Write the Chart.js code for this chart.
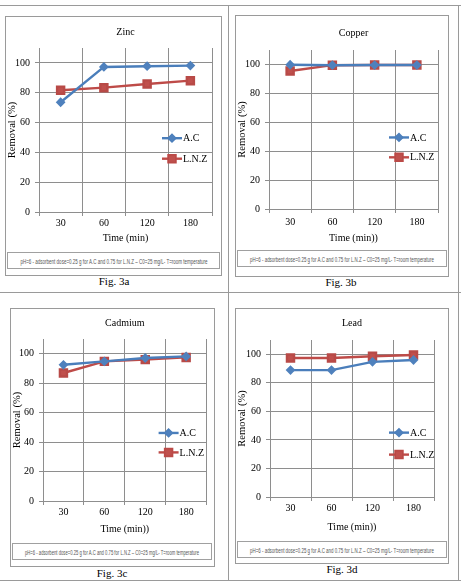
<!DOCTYPE html>
<html>
<head>
<meta charset="utf-8">
<script src="https://cdn.jsdelivr.net/npm/chart.js@4.4.1/dist/chart.umd.min.js"></script>
<style>
  body { margin: 0; background: #fff; width: 461px; height: 587px; position: relative; overflow: hidden; font-family: "Liberation Serif", serif; }
  .line { position: absolute; background: #9a9a9a; }
  .box { position: absolute; border: 1px solid #9a9a9a; box-sizing: border-box; background: #fff; }
  .box canvas { position: absolute; left: 0; top: 0; }
  .note { position: absolute; border: 1px solid #a0a0a0; box-sizing: border-box; overflow: hidden; }
  .note span { position: absolute; left: 50%; top: 50%; white-space: nowrap; font-family: "Liberation Sans Narrow", "Liberation Sans", sans-serif; font-size: 7px; color: #555; transform-origin: center center; }
  .fig { position: absolute; font-size: 11px; color: #000; text-align: center; width: 80px; }
</style>
</head>
<body>
<!-- table rules -->
<div class="line" style="left:0;top:5px;width:461px;height:1px"></div>
<div class="line" style="left:0;top:292px;width:461px;height:1px"></div>
<div class="line" style="left:0;top:580px;width:461px;height:1px"></div>
<div class="line" style="left:228px;top:5px;width:1px;height:576px"></div>
<div class="line" style="left:458px;top:5px;width:1px;height:576px"></div>

<div class="box" style="left:5px;top:16px;width:217px;height:260px">
  <canvas id="zincChart" width="215" height="235"></canvas>
  <div class="note" style="left:1px;top:235px;width:213px;height:17px"><span>pH=6 - adsorbent dose=0.25 g for A.C and 0.75 for L.N.Z – C0=25 mg/L- T=room temperature</span></div>
</div>
<div class="fig" style="left:74px;top:275px">Fig. 3a</div>

<div class="box" style="left:235px;top:15px;width:214px;height:262px">
  <canvas id="copperChart" width="212" height="234"></canvas>
  <div class="note" style="left:1px;top:234px;width:210px;height:17px"><span>pH=6 - adsorbent dose=0.25 g for A.C and 0.75 for L.N.Z – C0=25 mg/L- T=room temperature</span></div>
</div>
<div class="fig" style="left:301px;top:276px">Fig. 3b</div>

<div class="box" style="left:10px;top:308px;width:205px;height:259px">
  <canvas id="cadmiumChart" width="203" height="234"></canvas>
  <div class="note" style="left:1px;top:234px;width:200px;height:17px"><span>pH=6 - adsorbent dose=0.25 g for A.C and 0.75 for L.N.Z – C0=25 mg/L- T=room temperature</span></div>
</div>
<div class="fig" style="left:72px;top:567px">Fig. 3c</div>

<div class="box" style="left:235px;top:308px;width:214px;height:256px">
  <canvas id="leadChart" width="212" height="232"></canvas>
  <div class="note" style="left:1px;top:232px;width:210px;height:17px"><span>pH=6 - adsorbent dose=0.25 g for A.C and 0.75 for L.N.Z – C0=25 mg/L- T=room temperature</span></div>
</div>
<div class="fig" style="left:302px;top:563px">Fig. 3d</div>

<script>
//============================== DATA ===========================
const timeLabels = ["30", "60", "120", "180"];
const seriesNames = ["A.C", "L.N.Z"];

const zincAC = [73.6, 97.3, 97.8, 98.2];
const zincLNZ = [81.7, 83.4, 85.9, 88.1];

const copperAC = [99.8, 99.5, 99.6, 99.6];
const copperLNZ = [95.5, 99.5, 99.6, 99.6];

const cadmiumAC = [92.5, 94.8, 97.1, 98.2];
const cadmiumLNZ = [86.9, 94.8, 96.0, 97.5];

const leadAC = [88.9, 88.9, 94.7, 96.0];
const leadLNZ = [97.4, 97.4, 98.6, 99.5];

const yMin = 0;
const yMax = 110;
const yStep = 20;
const yTopTick = 100;

//============================== HELPERS ===========================
const GRID = "#8e8e8e";
const SERIF = "'Liberation Serif', 'Times New Roman', serif";

// legend drawn inside the plot, to the right (like the excel one)
const innerLegend = {
    id: "innerLegend",
    afterDatasetsDraw(chart, args, opts) {
        const ctx = chart.ctx;
        const a = chart.chartArea;
        const x0 = a.right - opts.fromRight;
        chart.data.datasets.forEach((ds, i) => {
            const y = a.top + opts.rows[i] * (a.bottom - a.top);
            ctx.save();
            ctx.strokeStyle = ds.borderColor;
            ctx.lineWidth = ds.borderWidth;
            ctx.beginPath();
            ctx.moveTo(x0, y);
            ctx.lineTo(x0 + 20, y);
            ctx.stroke();
            Chart.helpers.drawPoint(ctx, {
                pointStyle: ds.pointStyle,
                radius: ds.pointRadius,
                rotation: 0,
                borderWidth: 1
            }, x0 + 10, y);
            ctx.fillStyle = ds.pointBackgroundColor;
            ctx.strokeStyle = ds.pointBorderColor;
            ctx.lineWidth = 1;
            ctx.fill();
            ctx.stroke();
            ctx.fillStyle = "#000";
            ctx.font = "10px " + SERIF;
            ctx.textBaseline = "middle";
            ctx.textAlign = "left";
            ctx.fillText(ds.label, x0 + 21, y + 0.5);
            ctx.restore();
        });
    }
};

function makeConfig(title, acData, lnzData, xTitle, lay) {
    return {
        type: "line",
        data: {
            labels: timeLabels,
            datasets: [
                {
                    label: seriesNames[0],
                    data: acData,
                    borderColor: "#4A7EBB",
                    borderWidth: 2.4,
                    pointStyle: "rectRot",
                    pointRadius: 3.2,
                    pointBackgroundColor: "#4F81BD",
                    pointBorderColor: "#4F81BD",
                    tension: 0,
                },
                {
                    label: seriesNames[1],
                    data: lnzData,
                    borderColor: "#BE4B48",
                    borderWidth: 2.4,
                    pointStyle: "rect",
                    pointRadius: 5,
                    pointBackgroundColor: "#C0504D",
                    pointBorderColor: "#B84A47",
                    tension: 0,
                },
            ],
        },
        options: {
            responsive: false,
            maintainAspectRatio: false,
            animation: false,
            layout: { padding: { left: 0, top: 0, right: lay.padRight, bottom: 0 } },
            plugins: {
                legend: { display: false },
                tooltip: { enabled: false },
                title: {
                    display: true,
                    fullSize: false,
                    text: title,
                    color: "#000",
                    font: { family: SERIF, size: 10, weight: "normal", lineHeight: 1.2 },
                    padding: { top: lay.titleTop, bottom: lay.titleBottom },
                },
                innerLegend: { fromRight: lay.legendRight, rows: lay.legendRows },
            },
            scales: {
                x: {
                    type: "category",
                    offset: true,
                    grid: {
                        offset: true,
                        color: (c) => (c.index >= timeLabels.length ? "rgba(0,0,0,0)" : GRID),
                        lineWidth: 1,
                        tickLength: 4,
                    },
                    border: { display: true, color: GRID, width: 1 },
                    ticks: { color: "#000", padding: lay.xTickPad, font: { family: SERIF, size: 10 }, maxRotation: 0 },
                    title: {
                        display: true,
                        text: xTitle,
                        color: "#000",
                        font: { family: SERIF, size: 10, lineHeight: 1.2 },
                        padding: { top: 0, bottom: lay.xTitleBottom },
                    },
                    afterFit: (s) => { s.height = lay.xHeight; },
                },
                y: {
                    min: yMin,
                    max: yMax,
                    grid: { color: GRID, lineWidth: 1, tickLength: 4 },
                    border: { display: true, color: GRID, width: 1 },
                    ticks: { stepSize: yStep, color: "#000", padding: 5, font: { family: SERIF, size: 10 } },
                    afterBuildTicks: (s) => { s.ticks = s.ticks.filter((t) => t.value <= yTopTick); },
                    title: {
                        display: true,
                        text: "Removal (%)",
                        color: "#000",
                        font: { family: SERIF, size: 10.5, lineHeight: 1.15 },
                        padding: { top: 0, bottom: 0 },
                    },
                    afterFit: (s) => { s.width = lay.yWidth; },
                },
            },
        },
        plugins: [innerLegend],
    };
}

//============================== CHARTS ===========================
const zincChart = new Chart(document.getElementById("zincChart").getContext("2d"),
    makeConfig("Zinc", zincAC, zincLNZ, "Time (min)",
        { padRight: 9, titleTop: 9, titleBottom: 10, xHeight: 40, xTickPad: 1, xTitleBottom: 8, yWidth: 33, legendRight: 50, legendRows: [0.55, 0.675] }));

const copperChart = new Chart(document.getElementById("copperChart").getContext("2d"),
    makeConfig("Copper", copperAC, copperLNZ, "Time (min))",
        { padRight: 10, titleTop: 11, titleBottom: 11, xHeight: 41, xTickPad: 3, xTitleBottom: 6, yWidth: 33, legendRight: 49, legendRows: [0.55, 0.675] }));

const cadmiumChart = new Chart(document.getElementById("cadmiumChart").getContext("2d"),
    makeConfig("Cadmium", cadmiumAC, cadmiumLNZ, "Time (min))",
        { padRight: 6, titleTop: 8, titleBottom: 10, xHeight: 42, xTickPad: 1, xTitleBottom: 8, yWidth: 32, legendRight: 48, legendRows: [0.58, 0.70] }));

const leadChart = new Chart(document.getElementById("leadChart").getContext("2d"),
    makeConfig("Lead", leadAC, leadLNZ, "Time (min))",
        { padRight: 14, titleTop: 8, titleBottom: 11, xHeight: 44, xTickPad: 1, xTitleBottom: 8, yWidth: 34, legendRight: 45, legendRows: [0.59, 0.73] }));

// squeeze the small footnote text so it fits its box
document.querySelectorAll(".note span").forEach((sp) => {
    const box = sp.parentElement;
    const target = box.clientWidth - 24;
    const k = target / sp.scrollWidth;
    sp.style.transform = "translate(-50%, -50%) scaleX(" + k.toFixed(3) + ")";
});
</script>
</body>
</html>
